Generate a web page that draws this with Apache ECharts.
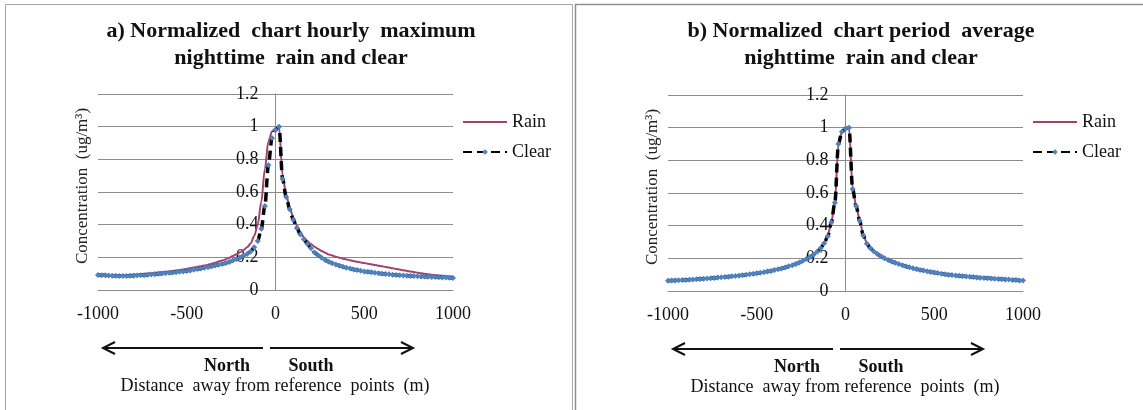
<!DOCTYPE html>
<html>
<head>
<meta charset="utf-8">
<script src="https://cdn.jsdelivr.net/npm/echarts@6/dist/echarts.min.js"></script>
<style>
  html, body { margin: 0; padding: 0; background: #fff; }
  #chart { width: 1143px; height: 410px; }
</style>
</head>
<body>
<div id="chart"></div>
<script>
// Distance from the reference points (m), negative = north, positive = south
const distances = [
  -1000, -980, -960, -940, -920, -900, -880, -860, -840, -820,
  -800, -780, -760, -740, -720, -700, -680, -660, -640, -620,
  -600, -580, -560, -540, -520, -500, -480, -460, -440, -420,
  -400, -380, -360, -340, -320, -300, -280, -260, -240, -220,
  -200, -180, -160, -140, -120, -100, -80, -60, -40, -20,
  0, 20, 40, 60, 80, 100, 120, 140, 160, 180,
  200, 220, 240, 260, 280, 300, 320, 340, 360, 380,
  400, 420, 440, 460, 480, 500, 520, 540, 560, 580,
  600, 620, 640, 660, 680, 700, 720, 740, 760, 780,
  800, 820, 840, 860, 880, 900, 920, 940, 960, 980,
  1000
];

// a) hourly maximum, nighttime
const rainHourlyMax = [
  0.085, 0.085, 0.086, 0.087, 0.088, 0.089, 0.090, 0.091, 0.092, 0.093,
  0.095, 0.096, 0.098, 0.099, 0.101, 0.103, 0.105, 0.107, 0.109, 0.111,
  0.113, 0.116, 0.119, 0.122, 0.126, 0.130, 0.134, 0.138, 0.142, 0.146,
  0.150, 0.155, 0.161, 0.167, 0.174, 0.181, 0.189, 0.198, 0.208, 0.219,
  0.231, 0.245, 0.262, 0.285, 0.330, 0.400, 0.540, 0.740, 0.910, 0.970,
  0.990, 1.000, 0.700, 0.585, 0.505, 0.445, 0.395, 0.355, 0.322, 0.300,
  0.281, 0.265, 0.251, 0.239, 0.228, 0.218, 0.211, 0.204, 0.198, 0.192,
  0.187, 0.182, 0.177, 0.173, 0.169, 0.165, 0.161, 0.157, 0.153, 0.149,
  0.145, 0.141, 0.137, 0.133, 0.129, 0.125, 0.121, 0.117, 0.113, 0.110,
  0.106, 0.103, 0.100, 0.097, 0.094, 0.091, 0.089, 0.087, 0.085, 0.083,
  0.082
];
const clearHourlyMax = [
  0.092, 0.091, 0.090, 0.089, 0.088, 0.087, 0.086, 0.086, 0.086, 0.087,
  0.088, 0.089, 0.090, 0.091, 0.093, 0.095, 0.097, 0.099, 0.101, 0.103,
  0.105, 0.107, 0.109, 0.111, 0.114, 0.117, 0.120, 0.124, 0.128, 0.132,
  0.136, 0.140, 0.145, 0.150, 0.155, 0.159, 0.165, 0.172, 0.180, 0.189,
  0.199, 0.209, 0.221, 0.236, 0.262, 0.300, 0.375, 0.515, 0.765, 0.930,
  0.980, 1.000, 0.680, 0.570, 0.495, 0.430, 0.380, 0.340, 0.310, 0.282,
  0.255, 0.230, 0.212, 0.197, 0.184, 0.173, 0.164, 0.156, 0.149, 0.142,
  0.136, 0.131, 0.126, 0.122, 0.118, 0.114, 0.111, 0.108, 0.105, 0.102,
  0.100, 0.098, 0.096, 0.094, 0.092, 0.090, 0.089, 0.088, 0.086, 0.085,
  0.084, 0.083, 0.082, 0.081, 0.080, 0.079, 0.078, 0.077, 0.076, 0.075,
  0.074
];

// b) period average, nighttime
const rainPeriodAvg = [
  0.064, 0.065, 0.065, 0.066, 0.067, 0.068, 0.070, 0.071, 0.072, 0.074,
  0.075, 0.077, 0.078, 0.080, 0.082, 0.084, 0.086, 0.088, 0.090, 0.092,
  0.094, 0.097, 0.099, 0.102, 0.105, 0.108, 0.111, 0.115, 0.119, 0.123,
  0.128, 0.133, 0.138, 0.144, 0.151, 0.158, 0.166, 0.175, 0.185, 0.196,
  0.208, 0.223, 0.241, 0.264, 0.296, 0.338, 0.420, 0.545, 0.895, 0.975,
  0.995, 1.000, 0.630, 0.522, 0.432, 0.345, 0.294, 0.264, 0.243, 0.227,
  0.213, 0.201, 0.190, 0.181, 0.173, 0.165, 0.158, 0.151, 0.145, 0.139,
  0.134, 0.129, 0.125, 0.121, 0.117, 0.113, 0.110, 0.106, 0.103, 0.100,
  0.098, 0.095, 0.093, 0.091, 0.089, 0.087, 0.085, 0.083, 0.081, 0.080,
  0.078, 0.077, 0.075, 0.074, 0.072, 0.071, 0.070, 0.068, 0.067, 0.066,
  0.065
];
const clearPeriodAvg = [
  0.063, 0.064, 0.065, 0.066, 0.067, 0.068, 0.069, 0.071, 0.072, 0.074,
  0.075, 0.077, 0.078, 0.080, 0.082, 0.084, 0.086, 0.088, 0.090, 0.092,
  0.094, 0.097, 0.099, 0.102, 0.105, 0.108, 0.111, 0.115, 0.119, 0.123,
  0.128, 0.133, 0.138, 0.144, 0.151, 0.158, 0.166, 0.175, 0.185, 0.196,
  0.208, 0.222, 0.240, 0.262, 0.292, 0.335, 0.420, 0.540, 0.900, 0.975,
  0.995, 1.000, 0.625, 0.520, 0.430, 0.340, 0.290, 0.262, 0.242, 0.226,
  0.212, 0.200, 0.190, 0.181, 0.173, 0.165, 0.158, 0.151, 0.145, 0.139,
  0.134, 0.129, 0.125, 0.121, 0.117, 0.113, 0.110, 0.106, 0.103, 0.100,
  0.098, 0.095, 0.093, 0.091, 0.089, 0.087, 0.085, 0.083, 0.081, 0.080,
  0.078, 0.077, 0.075, 0.074, 0.072, 0.071, 0.070, 0.068, 0.067, 0.065,
  0.065
];

const xTicks = { min: -1000, max: 1000, interval: 500 };
const yTicks = { min: 0, max: 1.2, interval: 0.2 };

const panelTitles = [
  'a) Normalized  chart hourly  maximum\nnighttime  rain and clear',
  'b) Normalized  chart period  average\nnighttime  rain and clear'
];
const seriesNames = ['Rain', 'Clear'];
const yAxisName = 'Concentration  (ug/m\u00B3)';
const xAxisName = 'Distance  away from reference  points  (m)';
const directionNames = ['North', 'South'];

const FONT = '"Liberation Serif", "Times New Roman", serif';
const RAIN_COLOR = '#A0446F';
const CLEAR_LINE = '#000000';
const CLEAR_MARK = '#4F81BD';
const GRID_COLOR = '#8c8c8c';

// plot geometry (px)
const PLOT_LEFT = 98;
const PLOT_WIDTH = 355;
// horizontal shift between the two panels
const PANEL_DX = 570;

function pairs(values) {
  return distances.map((d, i) => [d, values[i]]);
}

function makeXAxis(gridIndex) {
  return {
    type: 'value', gridIndex,
    min: xTicks.min, max: xTicks.max, interval: xTicks.interval,
    axisLine: { show: true, onZero: false, lineStyle: { color: GRID_COLOR, width: 1 } },
    axisTick: { show: false },
    splitLine: { show: false },
    axisLabel: {
      fontFamily: FONT, fontSize: 18, color: '#111', margin: 15,
      formatter: (v) => String(v)
    }
  };
}

function makeYAxis(gridIndex) {
  // the vertical axis sits at distance 0, in the middle of the plot
  return {
    type: 'value', gridIndex,
    min: yTicks.min, max: yTicks.max, interval: yTicks.interval,
    offset: -PLOT_WIDTH / 2,
    axisLine: { show: true, onZero: false, lineStyle: { color: GRID_COLOR, width: 1 } },
    axisTick: { show: false },
    splitLine: { show: true, lineStyle: { color: GRID_COLOR, width: 1 } },
    axisLabel: { fontFamily: FONT, fontSize: 18, color: '#111', margin: 17 }
  };
}

function makeSeries(idx, rain, clear) {
  return [
    {
      name: seriesNames[0], type: 'line', xAxisIndex: idx, yAxisIndex: idx,
      data: pairs(rain), symbol: 'circle', symbolSize: 0, showSymbol: false,
      smooth: 0.3, smoothMonotone: 'x',
      lineStyle: { color: RAIN_COLOR, width: 2 },
      itemStyle: { color: RAIN_COLOR, opacity: 0 },
      z: 2
    },
    {
      name: seriesNames[1], type: 'line', xAxisIndex: idx, yAxisIndex: idx,
      data: pairs(clear), symbol: 'diamond', symbolSize: 6, showSymbol: true,
      smooth: 0.3, smoothMonotone: 'x',
      lineStyle: { color: CLEAR_LINE, width: 3.5, type: [9, 5] },
      itemStyle: { color: CLEAR_MARK, borderWidth: 0 },
      z: 3
    }
  ];
}

function makeLegend(dx) {
  return {
    orient: 'vertical', left: 462 + dx, top: 113, padding: 0,
    itemWidth: 44, itemHeight: 7, itemGap: 12,
    data: seriesNames,
    textStyle: { fontFamily: FONT, fontSize: 18, color: '#111' },
    selectedMode: false
  };
}

function makeTitle(text, dx) {
  return {
    text, left: 291 + dx, top: 18, textAlign: 'center', padding: 0,
    textStyle: { fontFamily: FONT, fontSize: 22, fontWeight: 'bold', color: '#111', lineHeight: 27 }
  };
}

function panelGraphics(dx, dy) {
  const y = 348 + dy;
  const arrow = { stroke: '#111', lineWidth: 2, fill: null };
  return [
    { type: 'polyline', silent: true, shape: { points: [[263 + dx, y], [103 + dx, y]] }, style: arrow },
    { type: 'polyline', silent: true, shape: { points: [[115 + dx, y - 6], [103 + dx, y], [115 + dx, y + 6]] }, style: arrow },
    { type: 'polyline', silent: true, shape: { points: [[270 + dx, y], [413 + dx, y]] }, style: arrow },
    { type: 'polyline', silent: true, shape: { points: [[401 + dx, y - 6], [413 + dx, y], [401 + dx, y + 6]] }, style: arrow },
    { type: 'text', silent: true, x: 227 + dx, y: 366 + dy,
      style: { text: directionNames[0], font: 'bold 18px ' + FONT, fill: '#111', align: 'center', verticalAlign: 'middle' } },
    { type: 'text', silent: true, x: 311 + dx, y: 366 + dy,
      style: { text: directionNames[1], font: 'bold 18px ' + FONT, fill: '#111', align: 'center', verticalAlign: 'middle' } },
    { type: 'text', silent: true, x: 275 + dx, y: 386 + dy,
      style: { text: xAxisName, font: '18px ' + FONT, fill: '#111', align: 'center', verticalAlign: 'middle' } },
    { type: 'text', silent: true, x: 83 + dx, y: 186 + dy, rotation: Math.PI / 2,
      style: { text: yAxisName, font: '17px ' + FONT, fill: '#222', align: 'center', verticalAlign: 'middle' } }
  ];
}

const chart = echarts.init(document.getElementById('chart'), null, { renderer: 'canvas' });

chart.setOption({
  backgroundColor: '#ffffff',
  animation: false,
  title: [makeTitle(panelTitles[0], 0), makeTitle(panelTitles[1], PANEL_DX)],
  legend: [makeLegend(0), makeLegend(PANEL_DX)],
  grid: [
    { left: PLOT_LEFT, top: 94, width: PLOT_WIDTH, height: 196 },
    { left: PLOT_LEFT + PANEL_DX, top: 95, width: PLOT_WIDTH, height: 196 }
  ],
  xAxis: [makeXAxis(0), makeXAxis(1)],
  yAxis: [makeYAxis(0), makeYAxis(1)],
  series: [
    ...makeSeries(0, rainHourlyMax, clearHourlyMax),
    ...makeSeries(1, rainPeriodAvg, clearPeriodAvg)
  ],
  graphic: [
    { type: 'rect', silent: true, shape: { x: 5.5, y: 4.5, width: 567, height: 430 },
      style: { fill: null, stroke: '#a6a6a6', lineWidth: 1 } },
    { type: 'rect', silent: true, shape: { x: 575.5, y: 4.5, width: 600, height: 430 },
      style: { fill: null, stroke: '#8f8f8f', lineWidth: 1.5 } },
    ...panelGraphics(0, 0),
    ...panelGraphics(PANEL_DX, 1)
  ]
});
</script>
</body>
</html>
